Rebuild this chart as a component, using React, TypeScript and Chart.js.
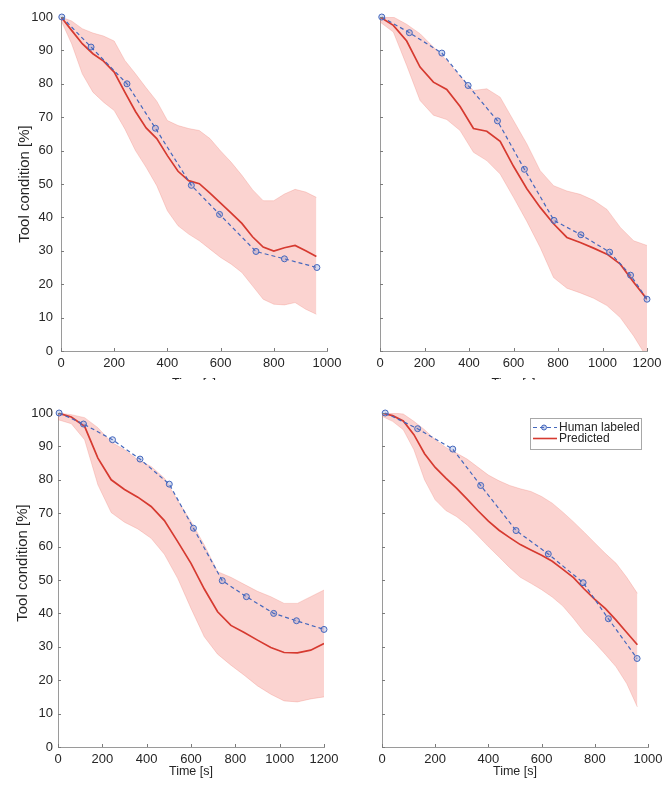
import React, { useEffect, useRef } from "react";
import { Chart, registerables } from "chart.js";
Chart.register(...registerables);

// ---------- Data ----------
// Panel A (top-left)
const timeA = [0, 40, 80, 120, 160, 200, 240, 280, 320, 360, 400, 440, 480, 520, 560, 600, 640, 680, 720, 760, 800, 840, 880, 920, 960];
const predA = [100, 96, 92, 89, 86.8, 83.5, 77.5, 71.7, 66.8, 63.6, 58.5, 53.8, 51, 50.1, 47.3, 44.3, 41.3, 38.2, 34.2, 31.1, 29.9, 30.9, 31.6, 30, 28.3];
const upperA = [100, 98.8, 96.5, 95.2, 94.3, 92.8, 87, 83, 78.8, 74.8, 69, 67.5, 66.6, 66, 63.6, 59.9, 56.5, 52.6, 48.3, 45, 45, 47, 48.4, 47.6, 46];
const lowerA = [99, 92, 83, 77.5, 74.5, 72, 66.5, 60, 55, 49.5, 42, 37.5, 35, 33, 30.5, 28, 26, 23.5, 19.5, 15.5, 14, 13.8, 14.5, 12.5, 11];
const humanTimeA = [3, 113, 248, 355, 490, 596, 733, 840, 962];
const humanA = [100, 91, 80, 66.7, 49.6, 40.9, 29.8, 27.6, 25];

// Panel B (top-right)
const timeB = [0, 60, 120, 180, 240, 300, 360, 420, 480, 540, 600, 660, 720, 780, 840, 900, 960, 1020, 1080, 1140, 1200];
const predB = [100, 97.5, 92.8, 85, 80.5, 78.3, 73.2, 66.6, 65.8, 62.8, 55.3, 48.6, 43, 38.1, 34, 32.5, 30.8, 29, 26, 20.6, 15.5];
const upperB = [100, 100, 97.8, 95, 91, 87, 82.2, 78, 78.5, 76, 69, 62, 54, 49.5, 47.9, 46.9, 45.1, 42.4, 37, 33, 31.6];
const lowerB = [98.5, 95.5, 85.5, 75, 70.6, 69.3, 66, 59.5, 57, 53, 46, 38.8, 31, 22, 18.8, 17.4, 15.8, 13.6, 10, 4.5, -2];
const humanTimeB = [8, 132, 278, 396, 528, 649, 782, 903, 1032, 1126, 1200];
const humanB = [100, 95.3, 89.2, 79.5, 68.9, 54.4, 39.1, 34.8, 29.6, 22.7, 15.5];

// Panel C (bottom-left)
const timeC = [0, 60, 120, 180, 240, 300, 360, 420, 480, 540, 600, 660, 720, 780, 840, 900, 960, 1020, 1080, 1140, 1200];
const predC = [100, 98.8, 96, 86.5, 80, 77.1, 74.8, 72, 67.8, 61.5, 55, 47.3, 40.5, 36.4, 34.3, 32, 29.8, 28.3, 28.2, 29, 31];
const upperC = [100, 99.5, 98.6, 95.6, 91.3, 89, 86, 84, 80.5, 73.8, 67.5, 60.5, 52.5, 50.8, 48.7, 46.6, 45, 43, 43, 45, 47];
const lowerC = [98, 96.8, 92, 78.5, 70.2, 67.3, 65.3, 62.5, 57.7, 50.5, 41.5, 33, 27.8, 24.5, 21.5, 18.3, 15.8, 13.8, 13.5, 14.4, 15];
const humanTimeC = [5, 115, 246, 370, 502, 611, 741, 850, 973, 1076, 1200];
const humanC = [100, 96.7, 92, 86.2, 78.7, 65.5, 49.8, 45, 40, 37.8, 35.2];

// Panel D (bottom-right)
const timeD = [0, 40, 80, 120, 160, 200, 240, 280, 320, 360, 400, 440, 480, 520, 560, 600, 640, 680, 720, 760, 800, 840, 880, 920, 960];
const predD = [100, 99.2, 97.6, 93.5, 87.8, 83.7, 80.5, 77.5, 74.2, 70.8, 67.6, 64.9, 62.7, 60.6, 59, 57.4, 55.6, 53.2, 50.7, 47.3, 44.2, 41.4, 38, 34.3, 30.6];
const upperD = [100, 100, 99.7, 97.5, 95, 92, 89.7, 88, 86.2, 83.8, 81.4, 79.7, 78.3, 77.3, 76.5, 75, 73, 70.3, 67.4, 64.3, 61.1, 57.9, 55, 50.8, 46];
const lowerD = [99, 97.5, 95, 89, 80, 74, 70.8, 69, 66.5, 63.3, 60, 56.9, 53.7, 50.8, 49, 47.1, 44.9, 42.2, 38.5, 34.4, 31.2, 27.7, 24, 19, 12];
const humanTimeD = [12, 134, 266, 371, 504, 625, 756, 851, 959];
const humanD = [100, 95.3, 89.2, 78.3, 64.8, 57.8, 49.2, 38.4, 26.5];

// Ticks and labels
const xTicks1000 = [0, 200, 400, 600, 800, 1000];
const xTicks1200 = [0, 200, 400, 600, 800, 1000, 1200];
const yTicks = [0, 10, 20, 30, 40, 50, 60, 70, 80, 90, 100];
const yLabel = "Tool condition [%]";
const xLabel = "Time [s]";
const legendLabels = ["Human labeled", "Predicted"];

// ---------- Styles ----------
const FONT = "'Liberation Sans', Arial, Helvetica, sans-serif";
const TEXT = "#262626";
const AXIS = "#9a9a9a";
const BLUE = "#4467bd";
const RED = "#d63a30";
const BAND = "rgba(242, 110, 100, 0.30)";
const BAND_EDGE = "rgba(235, 120, 110, 0.45)";

Chart.defaults.font.family = FONT;

type Cfg = {
  time: number[]; pred: number[]; upper: number[]; lower: number[];
  hTime: number[]; human: number[]; xMax: number; xTicks: number[];
  showY: boolean; legend: boolean;
  left: number; top: number; w: number; h: number; clipH: number;
  area: { l: number; t: number; r: number; b: number };
  xTitlePad: number; yTickPad: number; yTitle: { x: number; y: number } | null;
};

const panels: Cfg[] = [
  { time: timeA, pred: predA, upper: upperA, lower: lowerA, hTime: humanTimeA, human: humanA, xMax: 1000, xTicks: xTicks1000, showY: true, legend: false,
    left: 0, top: 0, w: 345, h: 395, clipH: 380, area: { l: 61, t: 17, r: 327, b: 351 }, xTitlePad: 3.5, yTickPad: 8, yTitle: { x: 25, y: 184 } },
  { time: timeB, pred: predB, upper: upperB, lower: lowerB, hTime: humanTimeB, human: humanB, xMax: 1200, xTicks: xTicks1200, showY: false, legend: false,
    left: 335, top: 0, w: 328, h: 395, clipH: 380, area: { l: 45, t: 17, r: 312, b: 351 }, xTitlePad: 3.5, yTickPad: 5, yTitle: null },
  { time: timeC, pred: predC, upper: upperC, lower: lowerC, hTime: humanTimeC, human: humanC, xMax: 1200, xTicks: xTicks1200, showY: true, legend: false,
    left: 0, top: 385, w: 345, h: 402, clipH: 402, area: { l: 58, t: 28, r: 324, b: 362 }, xTitlePad: 8, yTickPad: 5, yTitle: { x: 22.5, y: 178 } },
  { time: timeD, pred: predD, upper: upperD, lower: lowerD, hTime: humanTimeD, human: humanD, xMax: 1000, xTicks: xTicks1000, showY: false, legend: true,
    left: 335, top: 385, w: 328, h: 402, clipH: 402, area: { l: 47, t: 28, r: 313, b: 362 }, xTitlePad: 8, yTickPad: 5, yTitle: null },
];

const tickPlugin = {
  id: "inwardTicks",
  afterDraw(chart: any) {
    const { ctx, chartArea: a, scales } = chart;
    ctx.save();
    ctx.strokeStyle = "#7a7a7a";
    ctx.lineWidth = 1;
    ctx.beginPath();
    scales.x.ticks.forEach((t: any) => {
      const px = Math.round(scales.x.getPixelForValue(t.value)) + 0.5;
      ctx.moveTo(px, a.bottom);
      ctx.lineTo(px, a.bottom - 3);
    });
    scales.y.ticks.forEach((t: any) => {
      const py = Math.round(scales.y.getPixelForValue(t.value)) + 0.5;
      ctx.moveTo(a.left, py);
      ctx.lineTo(a.left + 3, py);
    });
    ctx.stroke();
    ctx.restore();
  },
};

const yTitlePlugin = {
  id: "yTitle",
  afterDraw(chart: any, _args: any, opts: any) {
    if (!opts || !opts.pos) return;
    const { ctx } = chart;
    ctx.save();
    ctx.translate(opts.pos.x, opts.pos.y);
    ctx.rotate(-Math.PI / 2);
    ctx.fillStyle = TEXT;
    ctx.font = `15px ${FONT}`;
    ctx.textAlign = "center";
    ctx.textBaseline = "middle";
    ctx.fillText(yLabel, 0, 0);
    ctx.restore();
  },
};

const legendPlugin = {
  id: "boxLegend",
  afterDraw(chart: any) {
    const { ctx, chartArea: a } = chart;
    const bw = 111, bh = 31;
    const bx = a.right - 7 - bw;
    const by = a.top + 5;
    ctx.save();
    ctx.fillStyle = "#ffffff";
    ctx.fillRect(bx, by, bw, bh);
    ctx.strokeStyle = "#a8a8a8";
    ctx.lineWidth = 1;
    ctx.strokeRect(Math.round(bx) + 0.5, Math.round(by) + 0.5, bw, bh);
    const y1 = by + 9.5, y2 = by + 20.5;
    ctx.strokeStyle = BLUE;
    ctx.lineWidth = 1.2;
    ctx.setLineDash([4, 3]);
    ctx.beginPath();
    ctx.moveTo(bx + 3, y1);
    ctx.lineTo(bx + 27, y1);
    ctx.stroke();
    ctx.setLineDash([]);
    ctx.beginPath();
    ctx.arc(bx + 14, y1, 2.5, 0, Math.PI * 2);
    ctx.fillStyle = "rgba(90,120,200,0.35)";
    ctx.fill();
    ctx.lineWidth = 1;
    ctx.stroke();
    ctx.strokeStyle = RED;
    ctx.lineWidth = 1.6;
    ctx.beginPath();
    ctx.moveTo(bx + 3, y2);
    ctx.lineTo(bx + 27, y2);
    ctx.stroke();
    ctx.fillStyle = TEXT;
    ctx.font = `12px ${FONT}`;
    ctx.textBaseline = "middle";
    ctx.textAlign = "left";
    ctx.fillText(legendLabels[0], bx + 29, y1);
    ctx.fillText(legendLabels[1], bx + 29, y2);
    ctx.restore();
  },
};

function Panel({ cfg }: { cfg: Cfg }) {
  const ref = useRef<HTMLCanvasElement>(null);
  useEffect(() => {
    const c = cfg;
    const pts = (xs: number[], ys: number[]) => xs.map((x, i) => ({ x, y: ys[i] }));
    const zeroPad = (s: any) => { s.paddingLeft = 0; s.paddingRight = 0; s.paddingTop = 0; s.paddingBottom = 0; };
    const plugins: any[] = [tickPlugin, yTitlePlugin];
    if (c.legend) plugins.push(legendPlugin);
    const chart = new Chart(ref.current as HTMLCanvasElement, {
      type: "line",
      data: {
        datasets: [
          { label: legendLabels[0], data: pts(c.hTime, c.human), borderColor: BLUE, borderDash: [4, 3], borderWidth: 1.2,
            pointRadius: 3, pointBorderColor: BLUE, pointBackgroundColor: "rgba(90,120,200,0.25)", pointBorderWidth: 1,
            fill: false, tension: 0, clip: false } as any,
          { label: legendLabels[1], data: pts(c.time, c.pred), borderColor: RED, borderWidth: 1.7, pointRadius: 0, fill: false, tension: 0 },
          { label: "upper", data: pts(c.time, c.upper), borderColor: BAND_EDGE, borderWidth: 0.6, pointRadius: 0, fill: "+1", backgroundColor: BAND, tension: 0 },
          { label: "lower", data: pts(c.time, c.lower), borderColor: BAND_EDGE, borderWidth: 0.6, pointRadius: 0, fill: false, tension: 0 },
        ],
      },
      options: {
        responsive: false,
        animation: false,
        events: [],
        layout: { padding: { left: 0, top: c.area.t, right: c.w - c.area.r, bottom: 0 } },
        plugins: { legend: { display: false }, tooltip: { enabled: false }, yTitle: { pos: c.yTitle } },
        scales: {
          x: {
            type: "linear", min: 0, max: c.xMax,
            afterBuildTicks: (s: any) => { s.ticks = c.xTicks.map((v) => ({ value: v })); },
            ticks: { font: { size: 13 }, color: TEXT, padding: 5, maxRotation: 0, callback: (v: any) => String(v) },
            grid: { display: false, drawTicks: false },
            border: { display: true, color: AXIS, width: 1 },
            title: { display: true, text: xLabel, font: { size: 12.5 }, color: TEXT, padding: { top: 0, bottom: c.xTitlePad } },
            afterFit: (s: any) => { s.height = c.h - c.area.b; zeroPad(s); },
          },
          y: {
            type: "linear", min: 0, max: 100,
            afterBuildTicks: (s: any) => { s.ticks = yTicks.map((v) => ({ value: v })); },
            ticks: { display: c.showY, font: { size: 13 }, color: TEXT, padding: c.yTickPad, callback: (v: any) => String(v) },
            grid: { display: false, drawTicks: false },
            border: { display: true, color: AXIS, width: 1 },
            title: { display: false },
            afterFit: (s: any) => { s.width = c.area.l; zeroPad(s); },
          },
        },
      } as any,
      plugins,
    });
    return () => chart.destroy();
  }, [cfg]);
  return (
    <div style={{ position: "absolute", left: cfg.left, top: cfg.top, width: cfg.w, height: cfg.clipH, overflow: "hidden" }}>
      <canvas ref={ref} width={cfg.w} height={cfg.h} style={{ display: "block", width: cfg.w, height: cfg.h }} />
    </div>
  );
}

export default function App() {
  return (
    <div style={{ position: "absolute", left: 0, top: 0, width: 663, height: 787, background: "#fff", overflow: "hidden" }}>
      {panels.map((p, i) => (
        <Panel key={i} cfg={p} />
      ))}
    </div>
  );
}
